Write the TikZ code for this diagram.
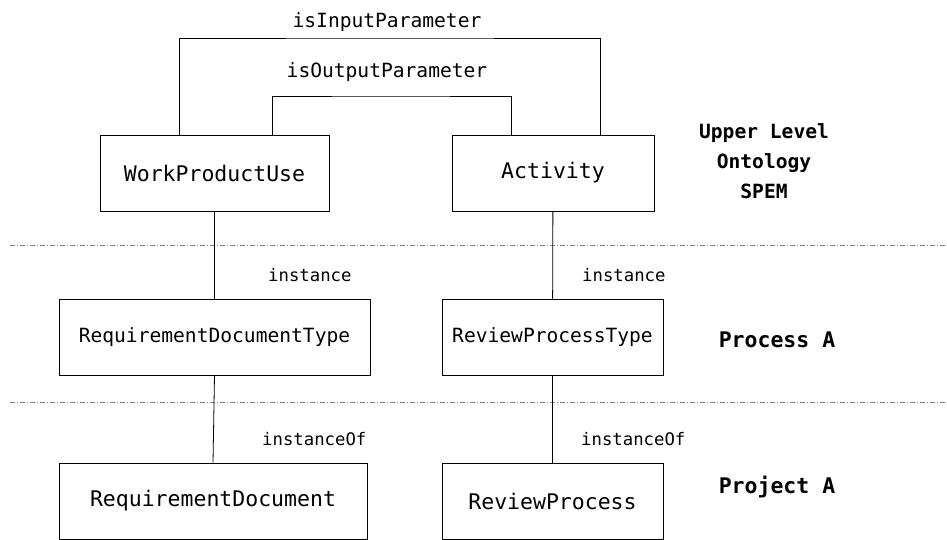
\documentclass[tikz,border=0pt]{standalone}
\usepackage{fontspec}
\setmonofont{DejaVu Sans Mono}
\usetikzlibrary{positioning}

\tikzset{
  classbox/.style={draw, line width=0.9pt, minimum height=76pt, inner sep=0pt,
    font=\ttfamily\fontsize{19.6}{22}\selectfont},
  bigbox/.style={classbox, font=\ttfamily\fontsize{21.5}{24}\selectfont},
  rellabel/.style={font=\ttfamily\fontsize{19.6}{22}\selectfont, inner sep=0pt},
  instlabel/.style={font=\ttfamily\fontsize{17.3}{20}\selectfont, inner sep=0pt, anchor=west},
  levellabel/.style={font=\ttfamily\bfseries\fontsize{21.5}{24}\selectfont, inner sep=0pt},
  rel/.style={line width=0.8pt},
  levelsep/.style={gray, line width=0.8pt, dash pattern=on 5pt off 2pt on 1pt off 2pt}
}

\begin{document}
\begin{tikzpicture}[x=1pt, y=-1pt]
    \useasboundingbox (0,0) rectangle (947,539);

    % upper level ontology
    \node[bigbox, minimum width=229pt] (wpu) at (214.5,173) {WorkProductUse};
    \node[bigbox, minimum width=202pt] (act) at (553,173) {Activity};
    % process
    \node[classbox, minimum width=311pt] (rdt) at (214.5,337) {RequirementDocumentType};
    \node[classbox, minimum width=221pt] (rpt) at (552.5,337) {ReviewProcessType};
    % project
    \node[bigbox, minimum width=308pt] (rd) at (213,501) {RequirementDocument};
    \node[bigbox, minimum width=221pt] (rp) at (552.5,501) {ReviewProcess};

    % level labels
    \node[levellabel, align=center, font=\ttfamily\bfseries\fontsize{19.6}{30}\selectfont]
        (ulo) at (764,161) {Upper Level\\Ontology\\SPEM};
    \node[levellabel] (pra) at (777,340) {Process A};
    \node[levellabel] (pja) at (777,487) {Project A};

    % separators
    \coordinate (sepA1) at (10,245);
    \coordinate (sepA2) at (947,245);
    \coordinate (sepB1) at (10,402);
    \coordinate (sepB2) at (947,402);
    \draw[levelsep] (sepA1) -- (sepA2);
    \draw[levelsep] (sepB1) -- (sepB2);

    % parameter relations
    \coordinate (inbar) at (390,38);
    \coordinate (outbar) at (390,96);
    \node[rellabel] (inlbl) at (387,22) {isInputParameter};
    \node[rellabel] (outlbl) at (387,72) {isOutputParameter};
    \draw[rel] ([xshift=-35.5pt]wpu.north) |- (inbar) -| ([xshift=47pt]act.north);
    \draw[rel] ([xshift=57.5pt]wpu.north) |- (outbar) -| ([xshift=-42pt]act.north);

    % instance relations
    \draw[rel] (wpu) -- (rdt);
    \draw[rel] (act) -- (rpt);
    \draw[rel] (rdt.south) -- (rd.north);
    \draw[rel] (rpt) -- (rp);
    \node[instlabel] (inst1) at (268,275) {instance};
    \node[instlabel] (inst2) at (582,275) {instance};
    \node[instlabel] (instof1) at (262,439) {instanceOf};
    \node[instlabel] (instof2) at (581,439) {instanceOf};
\end{tikzpicture}
\end{document}
